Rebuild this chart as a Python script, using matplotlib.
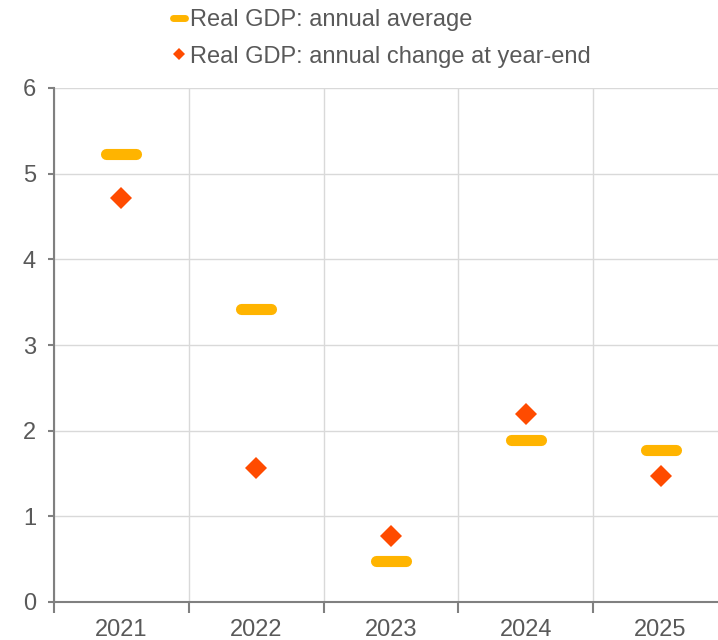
import numpy as np
import matplotlib.pyplot as plt
from matplotlib.lines import Line2D
from matplotlib.markers import MarkerStyle

years = ['2021', '2022', '2023', '2024', '2025']
annual_average = [5.23, 3.42, 0.48, 1.89, 1.78]
year_end_change = [4.72, 1.57, 0.77, 2.20, 1.47]

AMBER = '#FFB400'
ORANGE = '#FF4B00'
GREY_TXT = '#595959'

plt.rcParams['font.family'] = ['Liberation Sans', 'DejaVu Sans']

fig = plt.figure(figsize=(7.18, 6.4), dpi=100)
ax = fig.add_axes([54 / 718, 38 / 640, 674 / 718, 514 / 640])

x = np.arange(len(years))

# barra horizontal redondeada para la media anual
bar_marker = MarkerStyle('_', capstyle='round')
ax.plot(x, annual_average, linestyle='none', marker=bar_marker,
        markersize=21, markeredgewidth=8, color=AMBER, zorder=3)
ax.plot(x, year_end_change, linestyle='none', marker='D',
        markersize=11.5, color=ORANGE, markeredgewidth=0, zorder=4)

ax.set_xlim(-0.5, 4.5)
ax.set_ylim(0, 6)

ax.set_xticks(np.arange(-0.5, 5, 1))
ax.set_xticklabels([])
ax.set_xticks(x, minor=True)
ax.set_xticklabels(years, minor=True)
ax.tick_params(axis='x', which='major', length=8, width=1.5, color='#808080', direction='out')
ax.tick_params(axis='x', which='minor', length=0, pad=12, labelsize=17, labelcolor=GREY_TXT)

ax.set_yticks(range(0, 7))
ax.tick_params(axis='y', length=4, width=1.5, color='#808080', pad=9,
               labelsize=17, labelcolor=GREY_TXT)

ax.grid(True, which='major', color='#D9D9D9', linewidth=1)
ax.set_axisbelow(True)

for side in ['top', 'right']:
    ax.spines[side].set_visible(False)
for side in ['left', 'bottom']:
    ax.spines[side].set_color('#808080')
    ax.spines[side].set_linewidth(1.5)
ax.spines['bottom'].set_zorder(5)

handles = [
    Line2D([], [], linestyle='none', marker=MarkerStyle('_', capstyle='round'),
           markersize=9, markeredgewidth=5, color=AMBER),
    Line2D([], [], linestyle='none', marker='D', markersize=6.5,
           markeredgewidth=0, color=ORANGE),
]
labels = ['Real GDP: annual average', 'Real GDP: annual change at year-end']
fig.legend(handles, labels, loc='upper left', bbox_to_anchor=(168 / 718, 1 - 7 / 640),
           frameon=False, fontsize=17, labelcolor=GREY_TXT,
           handlelength=0.75, handletextpad=0.1, labelspacing=0.6,
           borderaxespad=0, borderpad=0.1)

fig.savefig('out.png', dpi=100)
